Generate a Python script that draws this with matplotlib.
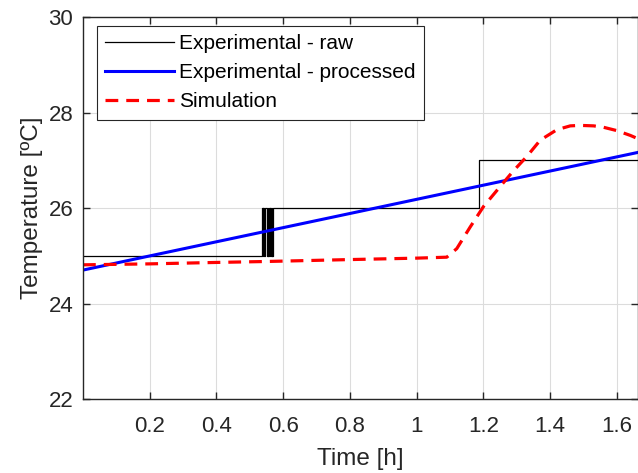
import matplotlib
matplotlib.use("Agg")
import matplotlib.pyplot as plt

plt.rcParams['font.family'] = ['Liberation Sans', 'DejaVu Sans']

# Raw experimental data (step-like, sensor resolution 1 ºC)
raw_t = [0.0, 0.536, 0.538, 0.540, 0.542, 0.544, 0.551, 0.553, 0.555, 0.557,
         0.559, 0.561, 0.563, 0.565, 0.567, 0.569, 0.571, 1.187, 1.187, 1.66]
raw_v = [25, 26, 25, 26, 25, 26, 25, 26, 25, 26,
         25, 26, 25, 26, 25, 26, 26, 26, 27, 27]

# Processed experimental (linear fit)
proc_t = [0.0, 1.66]
proc_v = [24.70, 27.16]

# Simulation
sim_t = [0.0, 0.2, 0.4, 0.55, 0.8, 1.0, 1.09, 1.12, 1.16, 1.20, 1.25, 1.29, 1.33,
         1.37, 1.42, 1.46, 1.49, 1.53, 1.56, 1.60, 1.64, 1.66]
sim_v = [24.81, 24.83, 24.86, 24.88, 24.92, 24.95, 24.97, 25.15, 25.6, 26.03, 26.45,
         26.78, 27.08, 27.42, 27.64, 27.72, 27.73, 27.72, 27.69, 27.62, 27.52, 27.46]

xticks = [0.2, 0.4, 0.6, 0.8, 1.0, 1.2, 1.4, 1.6]
xticklabels = ['0.2', '0.4', '0.6', '0.8', '1', '1.2', '1.4', '1.6']
yticks = [22, 24, 26, 28, 30]

fig = plt.figure(figsize=(6.38, 4.73), dpi=100)
ax = fig.add_axes([83/638, 74/473, 555/638, 382/473])

ax.plot(raw_t, raw_v, drawstyle='steps-post', color='black', lw=0.9,
        label='Experimental - raw')
ax.plot(proc_t, proc_v, color='#0000ff', lw=2.2, label='Experimental - processed')
ax.plot(sim_t, sim_v, color='#ff0000', lw=2.3, ls=(0, (4, 2.5)), label='Simulation')

ax.set_xlim(0, 1.663)
ax.set_ylim(22, 30)
ax.set_xticks(xticks)
ax.set_xticklabels(xticklabels)
ax.set_yticks(yticks)
ax.grid(True, color='#dcdcdc', lw=0.8)
ax.set_axisbelow(True)
ax.tick_params(direction='in', top=True, right=True, labelsize=16, length=5,
               width=1, colors='#262626', pad=7)
ax.tick_params(axis='x', pad=12)
for s in ax.spines.values():
    s.set_color('#262626')
    s.set_linewidth(1.0)
ax.set_xlabel('Time [h]', fontsize=17.5, color='#262626', labelpad=8)
ax.set_ylabel('Temperature [ºC]', fontsize=17.5, color='#262626', labelpad=4)

leg = ax.legend(loc='upper left', bbox_to_anchor=(14/555, 1 - 9/382), fontsize=15,
                frameon=True, fancybox=False, edgecolor='#262626', framealpha=1,
                handlelength=3.3, handletextpad=0.25, borderpad=0.4, labelspacing=0.48,
                borderaxespad=0)
leg.get_frame().set_linewidth(0.8)

fig.savefig('out.png', dpi=100)
